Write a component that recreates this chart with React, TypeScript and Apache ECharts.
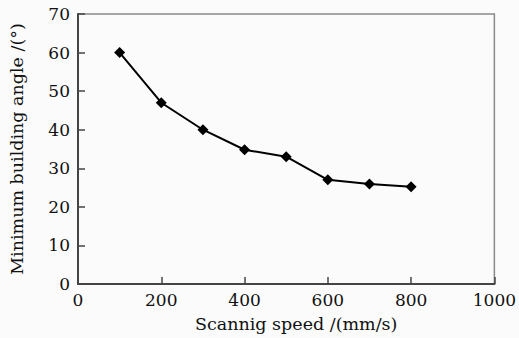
import React, { useEffect, useRef } from "react";
import * as echarts from "echarts";

const speeds = [100, 200, 300, 400, 500, 600, 700, 800];
const angles = [60, 47, 40, 34.8, 33, 27, 25.9, 25.2];
const xTitle = "Scannig speed /(mm/s)";
const yTitle = "Minimum building angle /(°)";

export default function App() {
  const ref = useRef<HTMLDivElement>(null);
  useEffect(() => {
    const chart = echarts.init(ref.current!, null, { renderer: "svg" });
    const font = "DejaVu Serif";
    chart.setOption({
      animation: false,
      backgroundColor: "#fbfbfb",
      grid: {
        left: 76,
        top: 14,
        right: 23,
        bottom: 52,
        show: true,
        borderColor: "#8a8a8a",
        borderWidth: 1.5,
      },
      xAxis: {
        type: "value",
        min: 0,
        max: 1000,
        interval: 200,
        name: xTitle,
        nameLocation: "middle",
        nameGap: 31,
        nameTextStyle: { fontFamily: font, fontSize: 17.5, color: "#111", padding: [0, 0, 0, 20] },
        axisLine: { lineStyle: { color: "#444", width: 2 } },
        axisTick: { inside: true, length: 7, lineStyle: { color: "#444", width: 1.5 } },
        axisLabel: { fontFamily: font, fontSize: 17, color: "#111", margin: 7, formatter: (v: number) => String(v) },
        splitLine: { show: false },
      },
      yAxis: {
        type: "value",
        min: 0,
        max: 70,
        interval: 10,
        name: yTitle,
        nameLocation: "middle",
        nameGap: 52,
        nameTextStyle: { fontFamily: font, fontSize: 17.5, color: "#111" },
        axisLine: { show: true, lineStyle: { color: "#444", width: 2 } },
        axisTick: { show: true, inside: true, length: 7, lineStyle: { color: "#444", width: 1.5 } },
        axisLabel: { fontFamily: font, fontSize: 17, color: "#111", margin: 8 },
        splitLine: { show: false },
      },
      series: [
        {
          type: "line",
          data: speeds.map((s, i) => [s, angles[i]]),
          symbol: "diamond",
          symbolSize: 11,
          lineStyle: { color: "#000", width: 2 },
          itemStyle: { color: "#000" },
        },
      ],
    });
    return () => chart.dispose();
  }, []);
  return <div ref={ref} style={{ width: 519, height: 338, position: "absolute", left: 0, top: 0 }} />;
}
